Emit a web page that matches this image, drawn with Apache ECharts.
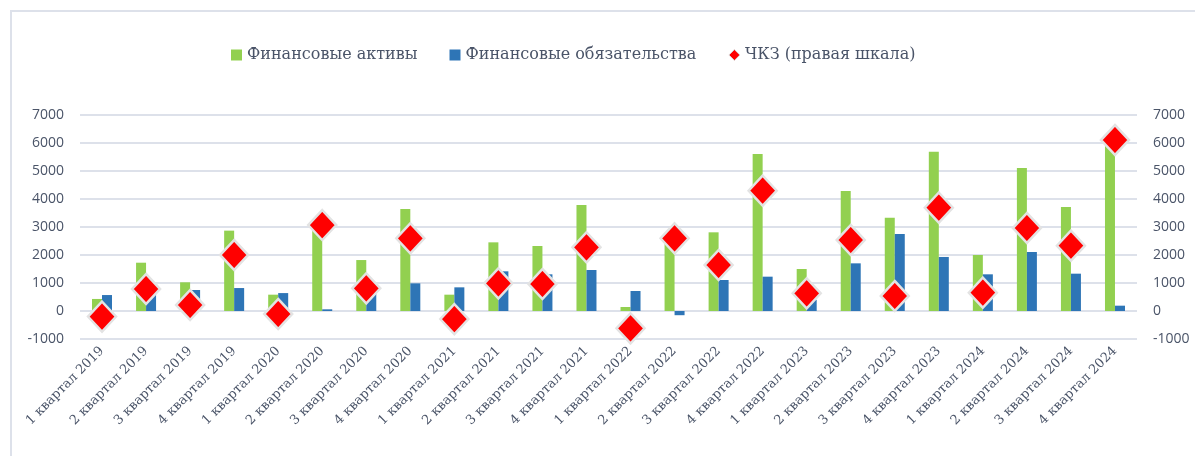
<!DOCTYPE html>
<html><head><meta charset="utf-8">
<script src="https://cdn.jsdelivr.net/npm/echarts@6/dist/echarts.min.js"></script>
<style>html,body{margin:0;padding:0;background:#fff}#c{width:1195px;height:456px}</style>
</head><body><div id="c"></div>
<script>
const categories = ["1 квартал 2019","2 квартал 2019","3 квартал 2019","4 квартал 2019",
"1 квартал 2020","2 квартал 2020","3 квартал 2020","4 квартал 2020",
"1 квартал 2021","2 квартал 2021","3 квартал 2021","4 квартал 2021",
"1 квартал 2022","2 квартал 2022","3 квартал 2022","4 квартал 2022",
"1 квартал 2023","2 квартал 2023","3 квартал 2023","4 квартал 2023",
"1 квартал 2024","2 квартал 2024","3 квартал 2024","4 квартал 2024"];
const assets = [430,1725,1025,2870, 583,3000,1820,3640, 583,2452,2321,3786, 143,2600,2810,5607, 1500,4286,3333,5690, 2000,5107,3714,6000];
const liabilities = [570,700,750,820, 640,60,700,988, 845,1417,1310,1464, 714,-150,1107,1226, 400,1702,2750,1930, 1310,2107,1333,190];
const nfw = [-200,785,214,2000, -107,3070,810,2595, -290,988,964,2274, -619,2595,1643,4298, 631,2536,536,3690, 655,2964,2333,6107];
const names = ["Финансовые активы","Финансовые обязательства","ЧКЗ (правая шкала)"];

const txt = '#4a5468';
const chart = echarts.init(document.getElementById('c'));
const yAxisBase = {
  type:'value', min:-1000, max:7000, interval:1000,
  axisLine:{show:false}, axisTick:{show:false},
  splitLine:{lineStyle:{color:'#dde1ea', width:2}},
  axisLabel:{color:txt, fontSize:14, fontFamily:'Open Sans', margin:16, formatter:v => String(v)}
};
chart.setOption({
  animation:false,
  graphic:[{type:'rect', shape:{x:11,y:11,width:1300,height:600}, style:{fill:null, stroke:'#dde1ea', lineWidth:2}}],
  legend:{
    top:42, left:226, itemGap:32, itemWidth:11, itemHeight:11,
    textStyle:{color:txt, fontSize:16, fontFamily:'DejaVu Serif'},
    data:[{name:names[0], icon:'rect'},{name:names[1], icon:'rect'},
          {name:names[2], icon:'diamond', itemStyle:{borderColor:'#d9d9d9', borderWidth:1, opacity:1}}]
  },
  grid:{left:80, right:58, top:115, bottom:117, containLabel:false},
  xAxis:{
    type:'category', data:categories,
    axisLine:{show:false}, axisTick:{show:false},
    axisLabel:{rotate:45, interval:0, color:txt, fontSize:13, fontFamily:'DejaVu Serif', margin:10}
  },
  yAxis:[Object.assign({}, yAxisBase), Object.assign({}, yAxisBase, {position:'right', splitLine:{show:false}})],
  series:[
    {name:names[0], type:'bar', data:assets, barWidth:10, barGap:'0%', itemStyle:{color:'#92d050'}},
    {name:names[1], type:'bar', data:liabilities, barWidth:10, barGap:'0%', itemStyle:{color:'#2e75b6'}},
    {name:names[2], type:'scatter', yAxisIndex:1, data:nfw, symbol:'diamond', symbolSize:[28,30],
     itemStyle:{color:'#ff0000', borderColor:'#e3e3e3', borderWidth:2.5, opacity:1}, z:5}
  ]
});
</script></body></html>
